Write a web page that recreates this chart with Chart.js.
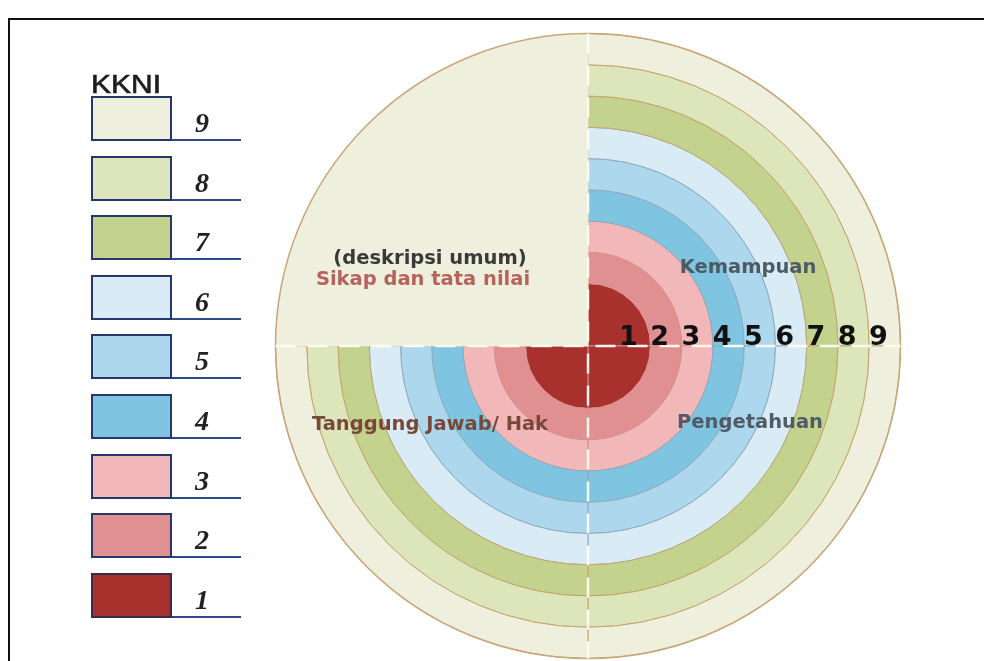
<!DOCTYPE html>
<html>
<head>
<meta charset="utf-8">
<title>KKNI</title>
<script src="https://cdn.jsdelivr.net/npm/chart.js@4.4.1/dist/chart.umd.min.js"></script>
<style>
  html, body { margin: 0; padding: 0; background: #fff; width: 984px; height: 661px; overflow: hidden; }
  #frame { position: absolute; left: 8px; top: 18px; width: 1100px; height: 800px; border: 2px solid #111; }
  #chart { position: absolute; left: 0; top: 0; }
  #legend { position: absolute; left: 91px; top: 0; }
  .kkni { position: absolute; left: 0; top: 69px; font-family: "Liberation Sans", Arial, sans-serif; font-size: 25px;
          line-height: 30px; color: #1e1e1e; -webkit-text-stroke: 0.6px #1e1e1e;
          transform: scaleX(1.2); transform-origin: left; }
  .box { position: absolute; left: 0; width: 81px; height: 45px; box-sizing: border-box; border: 2px solid #26386a; }
  .num { position: absolute; left: 100px; width: 22px; text-align: center; font-family: "Liberation Serif", "Times New Roman", serif;
         font-style: italic; font-weight: bold; font-size: 28px; line-height: 28px; color: #222; }
  .line { position: absolute; left: 81px; width: 69px; height: 2px; background: #2c4a84; }
</style>
</head>
<body>
<div id="frame"></div>
<canvas id="chart" width="984" height="661"></canvas>
<div id="legend"><div class="kkni">KKNI</div></div>

<script>
// --- Data ---
const levels = ['1', '2', '3', '4', '5', '6', '7', '8', '9'];
const levelColors = ['#a8312d', '#e19092', '#f2b7b8', '#7fc4e1', '#acd7ed', '#d9ecf6', '#c3d28d', '#dce6ba', '#eef0dd'];
const quadrants = ['Kemampuan', 'Pengetahuan', 'Tanggung Jawab/ Hak', 'Sikap dan tata nilai'];
const quadrantShare = [1, 1, 1, 1];
const generalNote = '(deskripsi umum)';
const legendTitle = 'KKNI';

// --- Helpers ---
function ringBorder(level) {
    if (level <= 3) return '#d48e8c';
    if (level <= 6) return '#8eaabc';
    return '#c6a46f';
}

// warna umum (kuadran kiri atas) = warna level tertinggi
const generalColor = levelColors[levelColors.length - 1];

// dataset pertama = cincin terluar
const datasets = levels.slice().reverse().map(lv => {
    const n = parseInt(lv);
    const c = levelColors[n - 1];
    return {
        label: lv,
        data: quadrantShare,
        backgroundColor: [c, c, c, generalColor],
        borderColor: [ringBorder(n), ringBorder(n), ringBorder(n), generalColor],
        hoverBackgroundColor: [c, c, c, generalColor],
        borderWidth: 1,
        hoverBorderWidth: 1,
        weight: n === 1 ? 2 : 1
    };
});

// Garis putus-putus, angka level dan label kuadran
const overlayPlugin = {
    id: 'overlay',
    afterDatasetsDraw(chart) {
        const ctx = chart.ctx;
        const outer = chart.getDatasetMeta(0).data[0];
        const cx = outer.x, cy = outer.y, R = outer.outerRadius;
        ctx.save();

        ctx.beginPath();
        ctx.arc(cx, cy, R, 0, Math.PI * 2);
        ctx.strokeStyle = '#c9a679';
        ctx.lineWidth = 1.5;
        ctx.stroke();

        ctx.setLineDash([20, 12]);
        ctx.strokeStyle = 'rgba(255,253,242,0.95)';
        ctx.lineWidth = 2.5;
        ctx.beginPath();
        ctx.moveTo(cx - R, cy); ctx.lineTo(cx + R, cy);
        ctx.moveTo(cx, cy - R); ctx.lineTo(cx, cy + R);
        ctx.stroke();
        ctx.setLineDash([]);

        ctx.textAlign = 'center';
        ctx.textBaseline = 'alphabetic';
        ctx.font = 'bold 27px "DejaVu Sans"';
        ctx.fillStyle = '#111';
        chart.data.datasets.forEach((ds, i) => {
            const arc = chart.getDatasetMeta(i).data[0];
            ctx.fillText(ds.label, cx + arc.outerRadius - 22, cy - 1);
        });

        ctx.font = 'bold 19.5px "DejaVu Sans"';
        const labels = chart.data.labels;
        ctx.fillStyle = '#4a5b63'; ctx.fillText(labels[0], cx + 160, cy - 73);
        ctx.fillStyle = '#4f5b67'; ctx.fillText(labels[1], cx + 162, cy + 82);
        ctx.fillStyle = '#7a4838'; ctx.fillText(labels[2], cx - 158, cy + 84);
        ctx.fillStyle = '#b8625e'; ctx.fillText(labels[3], cx - 165, cy - 61);
        ctx.fillStyle = '#3a3a3a'; ctx.fillText(generalNote, cx - 158, cy - 82);
        ctx.restore();
    }
};

new Chart(document.getElementById('chart').getContext('2d'), {
    type: 'doughnut',
    data: { labels: quadrants, datasets: datasets },
    options: {
        responsive: false,
        animation: false,
        devicePixelRatio: 1,
        cutout: 0,
        hoverOffset: 0,
        layout: { padding: { left: 275, right: 83, top: 33, bottom: 2 } },
        plugins: {
            legend: { display: false },
            tooltip: { enabled: true }
        }
    },
    plugins: [overlayPlugin]
});

// Legenda KKNI (9 di atas)
const legend = document.getElementById('legend');
legend.querySelector('.kkni').textContent = legendTitle;
levels.slice().reverse().forEach((lv, i) => {
    const top = 96 + i * 59.6;
    const box = document.createElement('div');
    box.className = 'box';
    box.style.top = top + 'px';
    box.style.background = levelColors[parseInt(lv) - 1];
    if (lv === '1') box.style.borderColor = '#3a2b4c';
    const line = document.createElement('div');
    line.className = 'line';
    line.style.top = (top + 43) + 'px';
    const num = document.createElement('div');
    num.className = 'num';
    num.style.top = (top + 13) + 'px';
    num.textContent = lv;
    legend.append(box, line, num);
});
</script>
</body>
</html>
